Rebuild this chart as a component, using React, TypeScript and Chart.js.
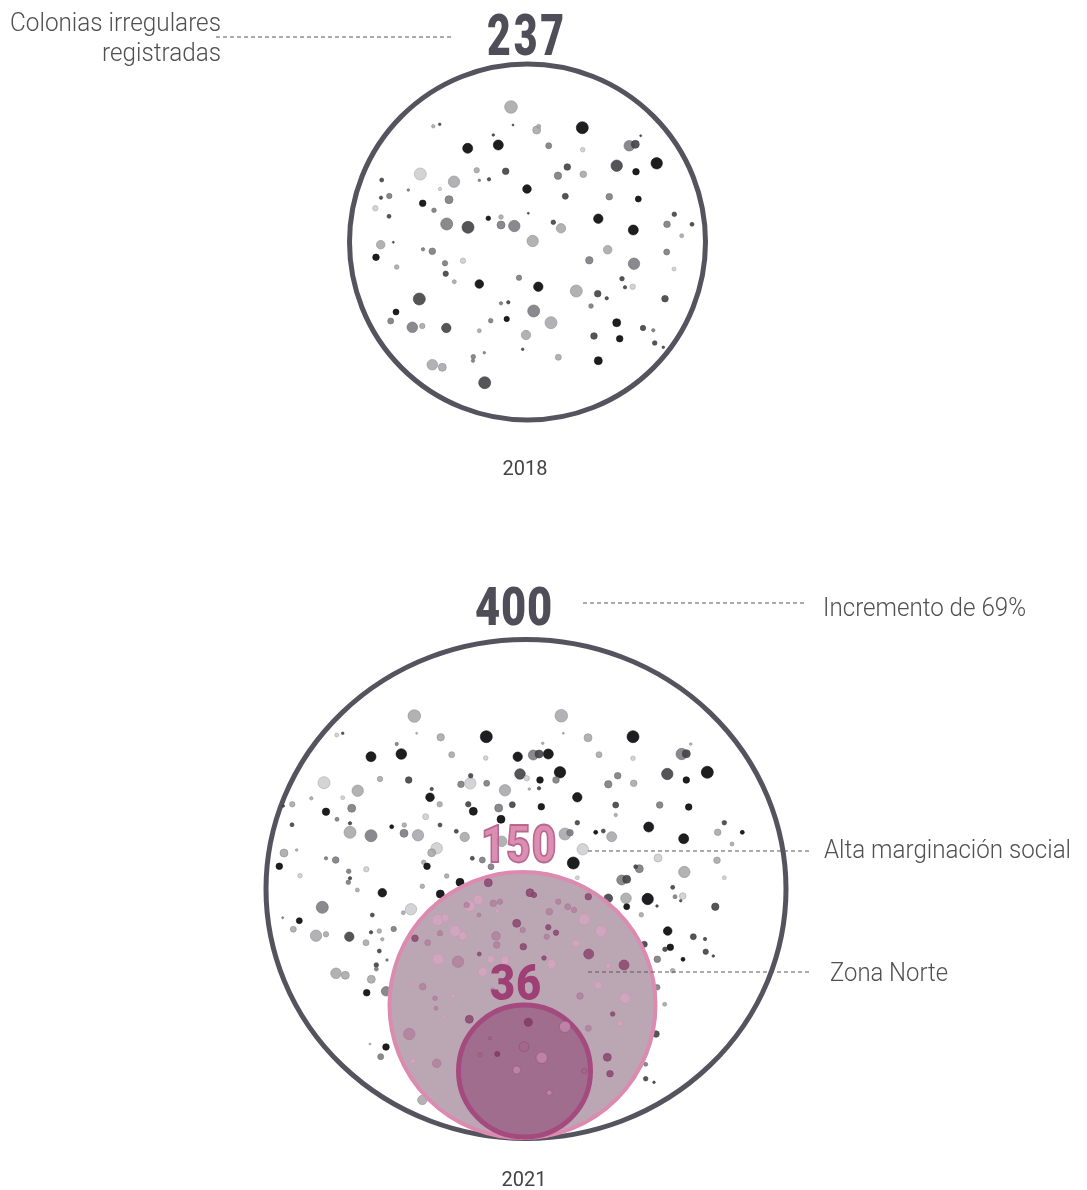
import { useEffect, useRef } from "react";
import { Chart, registerables } from "chart.js";

Chart.register(...registerables);

const W = 1087;
const H = 1190;

// ---- text content ----
const totals = ["237", "400"];
const years = ["2018", "2021"];
const subsetValues = ["150", "36"];
const subsetLabels = ["Alta marginación social", "Zona Norte"];
const headerLabel = ["Colonias irregulares", "registradas"];
const growthLabel = "Incremento de 69%";

// ---- total circles: [cx, cy, rx, ry] in chart units ----
const rings = [
  [527.5, 242, 178, 178],
  [526, 889, 260, 249.5],
];
// ---- subset circles: [cx, cy, radius] ----
const zoneAlta = [[522.5, 1005, 133]];
const zoneNorte = [[524.5, 1071, 66]];

// ---- colonies: [x, y, size, tone] ----
const dots2018 = [
  [511, 107, 6.3, 3], [582.3, 127.7, 6, 0], [536.7, 130, 4, 3], [538.7, 126.3, 2, 3],
  [467.7, 148.3, 5, 0], [498.3, 145, 5, 0], [548.7, 145.7, 3, 2], [629.3, 145.7, 5.3, 2],
  [635.3, 144.3, 4, 1], [582.7, 149.7, 2.3, 4], [656.7, 163.3, 5.7, 0], [616.7, 165.7, 5.7, 1],
  [636, 171.7, 3.3, 0], [420.3, 174, 6, 4], [454, 181.7, 5.7, 3], [476.7, 170.3, 2.7, 3],
  [505.7, 171.3, 3.3, 1], [567.3, 167, 3.3, 1], [558, 175.7, 3.7, 2], [583.3, 174.3, 3.3, 3],
  [527, 189, 4.3, 0], [449, 199.7, 4, 2], [389.3, 196, 2.7, 2], [381, 197.7, 1.7, 1],
  [375.3, 208.3, 2.7, 4], [422.7, 203.3, 3.3, 0], [434, 210.3, 2.3, 2], [565.3, 196.3, 3, 1],
  [609.3, 196.7, 3.3, 2], [638.3, 199, 3, 0], [381.7, 180, 2, 1], [389, 216.3, 2, 1],
  [446.7, 224, 6, 2], [468, 227.3, 6, 1], [488.3, 218.3, 2.3, 0], [501, 225, 4, 2],
  [501, 217, 2.3, 3], [514.3, 226, 5.7, 2], [553.3, 222.3, 2.3, 1], [561, 228.3, 4.7, 3],
  [598.3, 218.7, 4.7, 0], [633.3, 230, 5, 0], [667, 224.3, 3.3, 2], [674.3, 214.3, 2.3, 1],
  [692, 224.3, 2, 1], [681.7, 235.7, 2, 3], [532.7, 241, 5.7, 3], [380.7, 244.7, 4.3, 3],
  [376, 257.3, 3.3, 0], [396.7, 267, 2.3, 3], [432.3, 251.3, 3.3, 2], [423, 249.3, 1.7, 2],
  [445, 263.3, 2.7, 2], [445.7, 273.7, 2.7, 1], [463, 260.7, 2.7, 4], [607.7, 249.7, 4.3, 3],
  [589.3, 260.3, 3.7, 2], [634, 263.7, 5.7, 2], [666.7, 252, 3, 2], [674, 269, 2, 4],
  [479.3, 284, 4.3, 0], [538.3, 286.7, 4.7, 0], [519, 277.7, 2.7, 2], [454.3, 281.7, 2, 3],
  [576.3, 291, 6, 3], [597.7, 293.7, 3.3, 1], [622, 278.7, 2.3, 1], [632.7, 286.7, 2.7, 4],
  [419.3, 299, 6, 1], [665, 298.7, 3.3, 1], [396, 312, 3, 0], [390.7, 321, 3, 2],
  [412.3, 327.3, 5.3, 2], [422.3, 326, 2.7, 3], [446.3, 328, 4.7, 1], [533.7, 311, 6, 2],
  [551, 322.7, 6, 3], [506.7, 319, 2.7, 0], [490.7, 320.7, 2.3, 2], [508.3, 302.3, 1.7, 1],
  [501, 303.3, 1.7, 2], [591, 306, 2.3, 2], [616.7, 322.7, 4, 0], [643, 328, 2.7, 1],
  [526, 335, 4.7, 3], [479.3, 330.7, 2, 3], [594, 336, 3.3, 1], [619.7, 338.7, 3.3, 0],
  [654.7, 343, 2.3, 1], [653.3, 330.3, 1.7, 2], [432.3, 364.7, 5.3, 3], [442.3, 367.3, 4, 3],
  [473.3, 356.7, 2.3, 2], [473, 360.7, 1.7, 2], [558.3, 357.3, 3, 3], [598.3, 360.7, 4, 0],
  [484.7, 382.7, 6, 1], [522.7, 349.3, 1.3, 1], [484.3, 352.7, 1.3, 2], [606.7, 298.3, 1.7, 1],
  [625, 287.3, 1.7, 1], [439.7, 124.3, 1.3, 1], [433.3, 126.3, 1.7, 3], [493.3, 135, 1.3, 1],
  [489, 179.3, 1.7, 1], [479.3, 180.3, 1.3, 2], [528.3, 213.3, 1, 1], [640.7, 135.7, 1, 1],
  [408.3, 190, 1.3, 2], [440, 189, 1.7, 4], [393.3, 242.3, 1, 1], [663.3, 347.3, 1.3, 1],
  [513, 125, 1, 1],
];

const dots2021 = [
  [414.3, 716, 6.3, 3], [440.7, 737.3, 3.7, 3], [486.3, 736.7, 6, 0], [371, 756.7, 5, 0],
  [401.3, 754, 5.3, 0], [451.7, 754.7, 3, 3], [485.7, 758, 2.3, 4], [517.7, 756.7, 4.7, 0],
  [520, 774, 5.3, 1], [324, 782.7, 6, 4], [357.7, 790.7, 5.7, 3], [380, 779, 2.7, 3],
  [408.7, 780, 3.3, 1], [461, 784.3, 3.3, 2], [470.3, 783.3, 5.7, 4], [486.7, 783.3, 3, 2],
  [505, 790.3, 5.7, 3], [470.7, 775.7, 2.3, 1], [292.3, 804.3, 2.7, 3], [311.3, 798.3, 1.7, 3],
  [326, 811.7, 3.7, 0], [351.7, 808.3, 4, 2], [342.7, 797.7, 2, 4], [430, 797.3, 4.3, 0],
  [439.7, 804.3, 2.7, 3], [431.7, 789, 1.7, 1], [468.3, 804.3, 2.7, 1], [473.3, 811.3, 4, 0],
  [498.7, 808, 4, 2], [512.3, 804.7, 3, 1], [501, 819.3, 4, 0], [425.7, 816.7, 3, 4],
  [337, 819.3, 2, 2], [350, 823.3, 1.7, 1], [292, 824.7, 2, 1], [350, 832.3, 6, 3],
  [371, 835.7, 6, 2], [404, 833.3, 4, 2], [418, 835.3, 5.7, 3], [391.7, 826.7, 2, 0],
  [404.3, 825, 2.3, 3], [440, 825, 2, 1], [456.3, 831.3, 2, 1], [464.7, 837, 4.7, 3],
  [436.7, 848.3, 5.7, 4], [431.7, 852.7, 4, 3], [284, 853, 4, 3], [296.7, 850, 1.3, 3],
  [279.3, 866.3, 3.3, 0], [335.7, 860, 3.3, 2], [326, 858.3, 1.7, 2], [366.3, 869.3, 2.7, 4],
  [348.7, 871.3, 2.3, 2], [300, 875.7, 2.3, 4], [423.7, 862.3, 2.3, 3], [427, 866.3, 3.3, 0],
  [472.3, 858.3, 2, 1], [482.3, 860, 3, 2], [501.7, 841.3, 5.3, 3], [491, 866.7, 3, 2],
  [460, 882.3, 4, 0], [350, 878.3, 1.7, 1], [336.7, 735, 2, 4], [342.7, 733.3, 1.3, 1],
  [396.7, 744, 1.7, 2], [416.7, 733.3, 1, 3], [283.3, 806, 1.3, 1],
  [561.3, 715.7, 6.3, 3], [588, 737.7, 4, 3], [633, 736.7, 6, 0], [599, 754.7, 3, 3],
  [633, 758.3, 2.3, 4], [533.3, 755, 5, 2], [539, 754, 4, 1], [548.3, 754, 5, 0],
  [681.7, 754, 5.7, 2], [686.3, 753.7, 4, 1], [667.3, 774, 5.7, 1], [707.3, 772.3, 6, 0],
  [560, 772.3, 5.7, 0], [556, 780, 3.3, 2], [540, 780, 3.3, 0], [526.7, 778.3, 2.7, 4],
  [617.7, 775.7, 3.3, 2], [608.3, 784.3, 3.7, 2], [633.7, 783.3, 3.3, 3], [686.3, 780, 3.3, 0],
  [539, 788.3, 1.7, 1], [529.3, 789, 1.3, 3], [577.3, 797.3, 4.7, 0], [541.3, 806.7, 3.3, 0],
  [615.7, 805, 3, 1], [659.7, 805, 3.3, 2], [688.7, 807, 3.3, 0], [577.3, 822.7, 2.3, 1],
  [565, 834, 6, 3], [570, 832.7, 3.3, 2], [595.7, 832.3, 2, 0], [603.3, 831, 2, 1],
  [611.7, 836.7, 5, 3], [648.7, 827, 5, 0], [683.7, 838.7, 5, 0], [717.7, 832.3, 3.3, 3],
  [724.3, 822.7, 2.3, 1], [742.3, 832.3, 2, 0], [732, 844, 2, 3], [582.7, 849.3, 5.7, 4],
  [573.3, 863, 6, 0], [658, 858, 4, 4], [639.3, 868.7, 4, 2], [635.7, 866.7, 2, 1],
  [621.7, 880, 5, 2], [626.7, 879.3, 4, 1], [684.3, 872, 5.7, 3], [717, 860.3, 3.3, 3],
  [724.3, 877.7, 2, 4], [577.3, 877.7, 2, 4], [672.7, 887.3, 2, 1], [615.7, 815, 1.7, 3],
  [563.3, 733.3, 1, 3], [542.7, 743.3, 1.3, 3], [690.7, 744, 1.3, 3],
  [348.3, 882.3, 2.3, 2], [382.3, 892.7, 4.3, 0], [357.3, 890, 2, 3], [422.3, 886.3, 2.3, 3],
  [446.7, 876, 2.3, 3], [440.3, 894, 4, 0], [322.3, 907.3, 6, 2], [411, 909.3, 5.7, 4],
  [403.3, 912.7, 2, 3], [299.3, 920.7, 3, 0], [293.3, 929.3, 3, 3], [316, 935.7, 5.7, 3],
  [326, 934.3, 2.7, 3], [349.3, 936.7, 4.7, 1], [372.3, 915, 2, 1], [371, 932.3, 1.7, 1],
  [379.3, 931, 2.3, 3], [393.7, 929, 2.7, 2], [366, 942.7, 3, 3], [382.3, 939.3, 1.7, 3],
  [379.3, 951, 2, 1], [336, 973.3, 5.3, 3], [345.3, 975.3, 4, 3], [376.3, 965, 2.3, 1],
  [376.3, 969, 2, 2], [387, 960, 1.3, 2], [371.3, 979.3, 4, 3], [366.7, 992.7, 3.3, 0],
  [386, 991.3, 4.7, 2], [386, 1047, 3.3, 0], [380.7, 1056.7, 3, 2], [370, 1044, 1, 3],
  [422.3, 1100, 4.7, 3], [282.7, 917.7, 1, 2],
  [608.3, 898.3, 4.3, 1], [626, 898.3, 5.3, 3], [626.7, 906.7, 3, 0], [647.7, 899, 5.7, 0],
  [675, 896.7, 2, 2], [682.7, 896, 3.3, 4], [680.7, 900.7, 1.3, 1], [657, 906, 1.3, 1],
  [715.3, 906.7, 3.7, 1], [641.3, 914.7, 2.3, 3], [667.7, 931, 4.3, 0], [693.3, 936.7, 3, 1],
  [705, 939, 1.7, 1], [670.3, 947.3, 3.3, 0], [665, 949.3, 2.3, 1], [644.3, 944.3, 3, 1],
  [705.7, 951.7, 2.7, 1], [713.3, 956, 1.3, 1], [657.3, 959.3, 3.3, 2], [683, 959.3, 2, 0],
  [672.7, 970.7, 2.3, 3], [657.3, 987.3, 2.7, 2], [664.7, 1004.3, 2, 3], [656, 1034, 3.3, 1],
  [645.7, 1064.3, 2, 2], [645.7, 1078.7, 2.3, 1], [654, 1082.3, 1.3, 1],
];

const dotsAlta = [
  [469.3, 906, 5.7, 2], [478.3, 900, 5, 2], [466.7, 905, 2.7, 1], [437.7, 920, 5.7, 2],
  [445.3, 917.7, 4, 2], [455, 931, 5.7, 2], [462.7, 936, 4.3, 2], [440, 933.3, 2.7, 1],
  [415, 938.3, 3.3, 0], [427.7, 942.7, 3, 1], [438.3, 959.3, 5.7, 2], [458, 961.7, 5.7, 1],
  [422.7, 986.7, 3.3, 1], [413, 984.3, 1.7, 2], [435, 998.3, 2.3, 1], [436, 1008.3, 2, 1],
  [453.3, 996, 2, 2], [444, 1016.7, 1.7, 2], [409.3, 1034, 5.7, 1], [412.7, 1061, 2.7, 2],
  [436.7, 1063.3, 4.3, 1], [469.3, 1019.3, 4, 0], [493.3, 903.3, 3.3, 1], [500, 901.7, 2.7, 1],
  [497.3, 910.7, 2, 2], [496, 936, 4.3, 1], [496.7, 945, 3.3, 1], [491, 959.3, 4, 2],
  [505, 960, 4.3, 2], [516.7, 923.3, 4, 0], [523.3, 946.7, 3.3, 0], [479.3, 954, 2, 0],
  [479, 915, 2, 1], [488.3, 882.7, 4, 0], [482.7, 971.7, 4.7, 2], [492.7, 990, 2, 1],
  [530, 892.7, 4, 0], [534, 895, 2.7, 0], [549.3, 911.7, 3.3, 1], [558.3, 901.7, 2.7, 1],
  [567.7, 906.7, 3, 1], [574, 910, 2.7, 1], [584.3, 919.3, 5.7, 2], [588.3, 896.7, 3.3, 0],
  [601, 931, 5.7, 2], [548.3, 927.3, 2.7, 0], [556, 932.7, 2.7, 0], [546.7, 936.7, 2.7, 1],
  [576, 943.3, 4, 2], [588.7, 954, 5, 0], [551.7, 964, 4.7, 2], [624, 965, 5, 0],
  [608.3, 966, 2.7, 2], [598.3, 985.3, 4, 2], [580, 996, 3.3, 1], [625, 998.3, 5.3, 2],
  [612.7, 1014, 2.3, 0], [620, 1023.3, 2.7, 2], [588.3, 1028.3, 3, 1], [607.3, 1057.3, 4, 0],
  [610, 1073.7, 3.3, 0], [522.7, 930, 2.7, 1], [544, 958, 2.3, 0],
];

const dotsNorte = [
  [528.3, 1022.3, 4.3, 0], [541.7, 1057.7, 5.7, 2], [524, 1046.7, 5, 1], [565, 1026.7, 5.7, 2],
  [549.3, 1092.7, 2.7, 2], [584.3, 1071, 2.7, 1], [497.3, 1054, 2.7, 0], [516.7, 1070, 4, 2],
  [490, 1038.3, 1.7, 1], [480, 1055, 2, 1],
];

// ---- colours ----
const greyFill = ["rgba(18,18,20,0.95)", "rgba(70,70,74,0.92)", "rgba(122,122,126,0.88)", "rgba(165,165,168,0.85)", "rgba(205,205,208,0.85)"];
const greyLine = ["#0c0c0c", "#3c3c40", "#6a6a6e", "#909094", "#a9a9ad"];
const pinkFill = ["rgba(140,70,112,0.85)", "rgba(178,128,158,0.8)", "rgba(212,166,192,0.8)"];
const pinkLine = ["#7f3e66", "#a57592", "#c596b0"];
const norteFill = ["rgba(128,58,100,0.85)", "rgba(165,102,140,0.8)", "rgba(196,138,172,0.8)"];

// the chart's scales are 1 unit = 1 canvas pixel, so bubble r (pixels) equals the size in units
const toPts = (arr: number[][]) =>
  arr.map(([x, y, s, t]) => ({ x, y, r: s, tone: t === undefined ? 0 : t }));

const fitText = (
  ctx: CanvasRenderingContext2D,
  text: string,
  x: number,
  y: number,
  font: string,
  width: number,
  align: "left" | "right" | "center",
  stroke = false
) => {
  ctx.save();
  ctx.font = font;
  const m = ctx.measureText(text).width;
  const sx = width / m;
  ctx.translate(x, y);
  ctx.scale(sx, 1);
  ctx.textAlign = align;
  ctx.fillText(text, 0, 0);
  if (stroke) {
    ctx.lineWidth = 1.5 / sx;
    ctx.strokeText(text, 0, 0);
  }
  ctx.restore();
};

// total rings, drawn under the colonies from the rings table through the scales
const ringPlugin = {
  id: "rings",
  beforeDatasetsDraw(chart: any) {
    const { ctx } = chart;
    const xs = chart.scales.x;
    const ys = chart.scales.y;
    ctx.save();
    ctx.strokeStyle = "#55535e";
    ctx.lineWidth = 5;
    rings.forEach(([cx, cy, rx, ry]) => {
      const px = xs.getPixelForValue(cx);
      const py = ys.getPixelForValue(cy);
      const prx = Math.abs(xs.getPixelForValue(cx + rx) - px);
      const pry = Math.abs(ys.getPixelForValue(cy + ry) - py);
      ctx.beginPath();
      ctx.ellipse(px, py, prx, pry, 0, 0, Math.PI * 2);
      ctx.stroke();
    });
    ctx.restore();
  },
};

const overlay = {
  id: "overlay",
  afterDatasetsDraw(chart: any) {
    const { ctx } = chart;
    const xs = chart.scales.x;
    const ys = chart.scales.y;
    const X = (v: number) => xs.getPixelForValue(v);
    const Y = (v: number) => ys.getPixelForValue(v);
    ctx.save();
    ctx.textBaseline = "alphabetic";

    // dashed leader lines
    ctx.strokeStyle = "#5c5659";
    ctx.lineWidth = 1.2;
    ctx.setLineDash([4, 3]);
    const dash = (x1: number, x2: number, y: number) => {
      ctx.beginPath();
      ctx.moveTo(X(x1), Y(y));
      ctx.lineTo(X(x2), Y(y));
      ctx.stroke();
    };
    dash(216, 451, 37);
    dash(583, 805, 603);
    dash(588, 810, 851);
    dash(588, 810, 972);
    ctx.setLineDash([]);

    // big totals
    ctx.fillStyle = "#4f4d57";
    (ctx as any).letterSpacing = "4px";
    fitText(ctx, totals[0], X(527), Y(55), "900 57px Roboto", 80, "center");
    (ctx as any).letterSpacing = "1px";
    fitText(ctx, totals[1], X(514), Y(625), "900 54px Roboto", 78, "center");

    // subset numbers
    ctx.globalAlpha = 0.94;
    ctx.fillStyle = "#da86ad";
    ctx.strokeStyle = "#b5628b";
    (ctx as any).letterSpacing = "1px";
    fitText(ctx, subsetValues[0], X(519), Y(862), "900 51px Roboto", 76, "center", true);
    ctx.globalAlpha = 1;
    ctx.fillStyle = "#9e4075";
    fitText(ctx, subsetValues[1], X(516), Y(1000), "900 50px Roboto", 52, "center");
    (ctx as any).letterSpacing = "0px";

    // labels
    ctx.fillStyle = "#505050";
    const lf = "300 26px Roboto";
    fitText(ctx, headerLabel[0], X(221), Y(31), lf, 211, "right");
    fitText(ctx, headerLabel[1], X(221), Y(61), lf, 119, "right");
    fitText(ctx, growthLabel, X(823), Y(616), lf, 203, "left");
    fitText(ctx, subsetLabels[0], X(824), Y(858), lf, 247, "left");
    fitText(ctx, subsetLabels[1], X(830), Y(981), lf, 118, "left");

    // years
    ctx.fillStyle = "#444";
    ctx.font = "20px Roboto";
    ctx.textAlign = "center";
    ctx.fillText(years[0], X(525), Y(475));
    ctx.fillText(years[1], X(524), Y(1186));

    ctx.restore();
  },
};

export default function App() {
  const ref = useRef<HTMLCanvasElement | null>(null);

  useEffect(() => {
    if (!ref.current) return;
    const greyDs = (label: string, arr: number[][], order: number) => ({
      label,
      data: toPts(arr),
      order,
      clip: false,
      backgroundColor: (c: any) => greyFill[c.raw ? c.raw.tone : 0],
      borderColor: (c: any) => greyLine[c.raw ? c.raw.tone : 0],
      borderWidth: 0.6,
    });
    const chart = new Chart(ref.current, {
      type: "bubble",
      data: {
        datasets: [
          greyDs("2018", dots2018, 19),
          greyDs("2021", dots2021, 18),
          {
            label: "Alta marginación social",
            data: toPts(zoneAlta),
            order: 17,
            clip: false,
            backgroundColor: "rgba(182,160,174,0.93)",
            borderColor: "#dc8ab0",
            borderWidth: 4,
          } as any,
          {
            label: "Alta (colonias)",
            data: toPts(dotsAlta),
            order: 16,
            clip: false,
            backgroundColor: (c: any) => pinkFill[c.raw ? c.raw.tone : 0],
            borderColor: (c: any) => pinkLine[c.raw ? c.raw.tone : 0],
            borderWidth: 0.6,
          } as any,
          {
            label: "Zona Norte",
            data: toPts(zoneNorte),
            order: 15,
            clip: false,
            backgroundColor: "rgba(160,104,140,0.92)",
            borderColor: "#a44a7e",
            borderWidth: 5,
          } as any,
          {
            label: "Zona Norte (colonias)",
            data: toPts(dotsNorte),
            order: 14,
            clip: false,
            backgroundColor: (c: any) => norteFill[c.raw ? c.raw.tone : 0],
            borderColor: "rgba(120,50,90,0.5)",
            borderWidth: 0.6,
          } as any,
        ] as any,
      },
      options: {
        animation: false,
        responsive: false,
        devicePixelRatio: 1,
        events: [],
        layout: { padding: 0, autoPadding: false },
        scales: {
          x: { type: "linear", min: 0, max: W, display: false },
          y: { type: "linear", min: 0, max: H, reverse: true, display: false },
        },
        plugins: {
          legend: { display: false },
          tooltip: { enabled: false },
        },
      },
      plugins: [ringPlugin, overlay],
    });
    return () => chart.destroy();
  }, []);

  return (
    <div style={{ position: "absolute", left: 0, top: 0, width: W, height: H, background: "#fff" }}>
      <canvas ref={ref} width={W} height={H} style={{ display: "block" }} />
    </div>
  );
}
